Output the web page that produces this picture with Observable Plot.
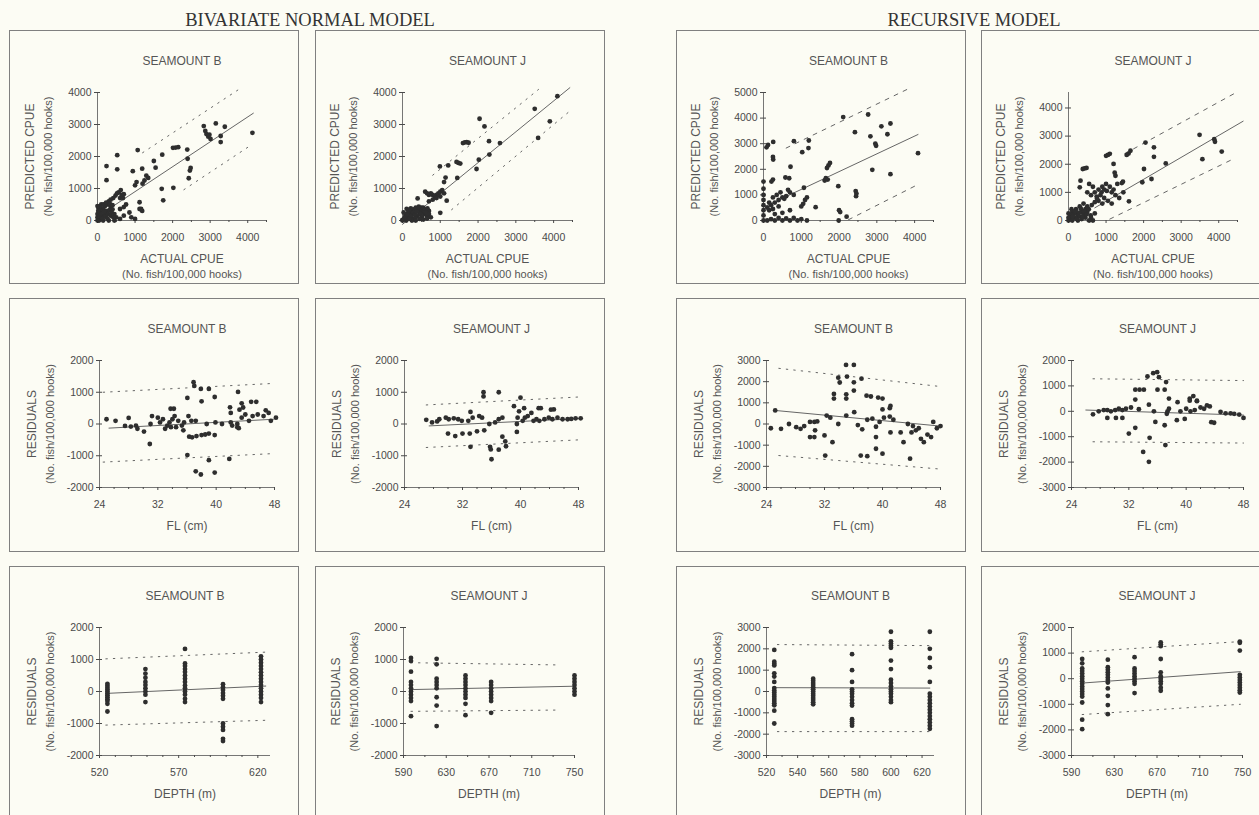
<!DOCTYPE html>
<html>
<head>
<meta charset="utf-8">
<script src="https://cdn.jsdelivr.net/npm/d3@7"></script>
<script src="https://cdn.jsdelivr.net/npm/@observablehq/plot@0.6"></script>
<style>
  html, body { margin: 0; padding: 0; background: #fcfcf4; }
  #chart { position: relative; width: 1259px; height: 815px; overflow: hidden; background: #fcfcf4; }
  .hdr { position: absolute; font-family: "Liberation Serif", "Times New Roman", serif; font-size: 18.5px; color: #333; white-space: nowrap; transform: translateX(-50%); line-height: 20px; }
  .panel { position: absolute; width: 288px; height: 252px; outline: 1px solid #808080; }
  .panel svg { position: absolute; left: 0; top: 0; }
</style>
</head>
<body>
<div id="chart"></div>
<script>
// ---------------- tick labels ----------------
const cpueTicks = [0, 1000, 2000, 3000, 4000];
const cpueMinor = [500, 1500, 2500, 3500, 4500];
const cpueTicks5 = [0, 1000, 2000, 3000, 4000, 5000];
const resTicks2 = [-2000, -1000, 0, 1000, 2000];
const resTicks3 = [-3000, -2000, -1000, 0, 1000, 2000, 3000];
const resTicks32 = [-3000, -2000, -1000, 0, 1000, 2000];
const flTicks = [24, 32, 40, 48];
const flMinor = [26, 28, 30, 34, 36, 38, 42, 44, 46];
const depthTicksB1 = [520, 570, 620];
const depthMinorB1 = [530, 540, 550, 560, 580, 590, 600, 610];
const depthTicksB2 = [520, 540, 560, 580, 600, 620];
const depthMinorB2 = [530, 550, 570, 590, 610];
const depthTicksJ = [590, 630, 670, 710, 750];
const depthMinorJ = [610, 650, 690, 730];

// ---------------- row 1: predicted vs actual CPUE ----------------
const bnB_cpue = [[4125,2740],[3390,2930],[3150,3035],[2830,2950],[2870,2800],[2900,2700],[2950,2620],[3010,2550],[2980,2680],[3280,2640],[3280,2450],
 [2390,2215],[2400,1930],[2480,1640],[2460,1560],[2430,1320],[2010,2270],[2080,2280],[2150,2290],[1724,2058],[1500,1860],[1547,1650],
 [1300,1400],[1350,1330],[1250,1250],[1200,1150],[1040,1200],[1000,1100],[1190,1620],[1070,2200],[940,1540],
 [525,2040],[525,1600],[240,1700],[240,1260],[1710,990],[2020,1020],[1750,630],
 [560,880],[620,950],[700,820],[480,780],[420,700],[350,650],[600,700],[680,700],[640,800],[520,850],
 [1120,570],[1120,360],[1160,360],[600,360],[700,420],[760,500],
 [300,600],[280,500],[200,450],[150,380],[350,420],[400,350],[250,300],[100,300],[50,250],[0,200],[0,100],[60,50],[120,150],[200,180],[280,200],[350,150],[450,200],[500,100],[600,50],[700,150],[850,250],[900,100],[1000,50],[1190,300],[40,0],[150,0],[300,0],[450,0],[30,380],[100,500],
 [0,0],[50,120],[80,220],[130,60],[180,280],[220,120],[260,60],[320,320],[380,250],[420,100],[60,420],[20,300],[160,500],[230,560],[330,520],[400,480],[0,450]];
const bnB_cpue_fit = [[0,124],[4150,3353]];
const bnB_cpue_up = [[1200,2117],[3800,4125]];
const bnB_cpue_lo = [[2300,963],[4100,2364]];

const bnJ_cpue = [[4100,3885],[3500,3490],[3900,3100],[3590,2580],[2580,2420],[2290,2480],[2040,3180],[2170,2940],[2300,2060],[2020,1900],[1960,1610],
 [1600,2420],[1650,2440],[1700,2450],[1750,2430],[1480,1800],[1530,1780],[1430,1830],[1210,1720],[990,1690],[1450,1330],[1140,1340],[1100,1200],
 [1000,900],[950,850],[900,800],[850,750],[800,800],[750,850],[700,800],[650,850],[600,900],[1050,950],[1100,850],[1000,750],[900,700],[800,650],[700,600],
 [1170,620],[1000,240],[400,690],[110,365],
 [150,100],[200,200],[250,300],[300,350],[350,400],[400,380],[450,350],[500,300],[550,250],[600,200],[650,150],[500,400],[450,250],[400,150],[350,100],[300,50],[250,0],[100,0],[50,50],[0,20],[200,50],[300,200],[550,400],[600,350],[700,300],[150,250],[80,150],
 [0,0],[60,100],[120,180],[180,60],[230,150],[280,260],[330,180],[380,280],[430,430],[480,200],[520,120],[580,300],[620,260],[660,380],[700,200],[750,100],[220,380],[170,330],[30,250],[350,0],[450,50],[550,30],[650,60]];
const bnJ_cpue_fit = [[0,-120],[4430,4150]];
const bnJ_cpue_up = [[800,1415],[3600,4095]];
const bnJ_cpue_lo = [[1300,337],[4450,3440]];

const recB_cpue = [[4090,2630],[3360,3790],[3120,3680],[3280,3370],[2770,4140],[2830,3290],[2960,3000],[2980,2920],[2420,3450],[2110,4040],[2880,1980],[3360,1810],
 [1720,2150],[1760,2250],[1680,2050],[1620,1560],[1650,1650],[1700,1600],[1980,1340],[2440,1150],[2460,1050],[2450,950],[2000,400],
 [1070,1280],[1200,3125],[1190,2830],[1025,2670],[805,3100],[257,3070],[80,2860],[120,2950],[257,2380],[250,2480],[715,2100],[580,1680],[680,1650],[210,1520],[250,1600],[0,1520],[0,1240],
 [650,1200],[700,1100],[600,950],[500,900],[400,800],[300,700],[200,600],[150,400],[800,1000],
 [1150,900],[1100,800],[1050,650],[1000,550],[1380,520],
 [0,1000],[0,800],[0,600],[0,400],[0,200],[0,0],[100,0],[200,50],[300,0],[400,100],[500,0],[600,80],[700,0],[800,100],[900,0],[1000,50],[1150,0],[300,250],[500,300],[700,400],
 [2030,330],[1990,0],[2200,150],
 [250,900],[350,1000],[450,1100],[550,850],[150,700],[100,500],[250,450],[400,550]];
const recB_cpue_fit = [[0,520],[4090,3360]];
const recB_cpue_up = [[600,2830],[3800,5120]];
const recB_cpue_lo = [[2250,30],[4000,1340]];

const recJ_cpue = [[3490,3045],[3880,2890],[3900,2800],[4080,2450],[3565,2180],[2590,2030],[2275,2600],[2275,2265],[2050,2770],[2010,1830],[2210,1475],[1965,1360],
 [1650,2480],[1600,2380],[1550,2330],[1450,1380],[1420,1330],[1460,1000],[1610,680],
 [1100,2370],[1050,2330],[1000,2300],[1200,2010],[1250,1590],[1230,1700],
 [1000,1300],[900,1200],[800,1100],[700,1000],[600,900],[1100,1200],[1200,1100],[1300,1300],[850,900],[750,850],[950,800],[1050,700],[1150,600],[650,1200],[550,1300],[500,1000],[800,700],[900,600],
 [380,1830],[430,1850],[480,1870],[320,1415],[300,1180],
 [100,300],[200,400],[300,500],[400,600],[250,200],[350,300],[450,400],[150,100],[50,50],[0,0],[100,0],[200,100],[300,150],[400,200],[500,300],[590,180],[600,100],[700,250],[500,500],[150,250],[50,200],[250,0],[350,50],[450,100],[550,0],[650,0],
 [0,100],[0,250],[80,400],[120,150],[180,330],[220,50],[280,280],[330,420],[380,120],[420,330],[480,220],[540,400],[620,550],[700,650],[760,780],[880,1000],[950,1100],[1020,1050],[1150,1000],[1250,900],[1350,800]];
const recJ_cpue_fit = [[700,450],[4650,3530]];
const recJ_cpue_up = [[1500,2377],[4450,4539]];
const recJ_cpue_lo = [[1100,50],[4450,2228]];

// ---------------- row 2: residuals vs fork length ----------------
const bnB_fl = [[36.9,1317],[37,1200],[37.9,1105],[39,1105],[36.05,820],[38,715],[39.8,850],[43,1010],[41.9,525],[43.5,650],[43.7,520],[44.8,700],[45.5,700],[33.75,480],[34.2,480],[46.8,430],
 [24.96,150],[26.2,100],[28,190],[28.3,-80],[27.5,-60],[29,-50],[29.2,-150],[30.1,-240],[30.9,-630],
 [31,0],[31.2,250],[32,200],[32.3,50],[32.7,150],[33,-150],[33.3,-50],[33.8,-100],[33.6,50],[34,150],[34.3,250],
 [34.5,-100],[34.8,100],[35.3,-50],[35.5,-200],[35.6,50],[36.2,250],[36.6,100],[37.2,100],
 [36.3,-400],[36.7,-420],[37.3,-380],[38,-350],[38.5,-330],[39,-300],[39.8,-350],[38.7,0],[39.9,50],[40.8,0],
 [36.05,-980],[37.2,-1490],[37.9,-1590],[39,-1140],[41.8,-1100],[39.8,-1530],
 [42,50],[42.2,-50],[42.9,0],[43.5,200],[44,300],[44.5,100],[45,250],[45.7,300],[46.5,250],[47.2,350],[47.5,100],[48.2,200],[42.9,-100],[43.1,-130],[42,350],[43.2,450]];
const bnB_fl_fit = [[25.3,-130],[47.9,150]];
const bnB_fl_up = [[24.5,1000],[48,1280]];
const bnB_fl_lo = [[24.5,-1200],[48,-930]];

const bnJ_fl = [[34.9,1000],[37,1000],[34.9,870],[40,830],[39.1,560],[40.5,500],[42.5,500],[42.8,500],
 [27,130],[27.8,50],[28.5,80],[28.8,150],[29.7,200],[30.1,150],[30.8,180],[31.4,150],[31.9,100],[32.8,100],[33.4,200],[34.3,250],[34.7,200],
 [30,-300],[31,-380],[32,-300],[33.1,380],[33,-300],[34,-230],[35,-200],
 [35.7,0],[36.5,50],[37,150],[37.5,200],[37.5,-400],[37.9,-550],[38,-700],
 [33.1,-720],[35.8,-720],[35.9,-800],[37,-810],[36,-1110],
 [39.5,-250],[39.5,0],[39.6,200],[39.8,400],[40.3,100],[40.6,200],[41,250],[41.5,350],[41.8,100],[42.2,150],[42.6,100],
 [43.3,150],[43.9,200],[44.4,150],[45.1,200],[45.8,150],[46.5,150],[47,160],[47.6,180],[48.3,180],[44.2,450],[44.6,460]];
const bnJ_fl_fit = [[27.4,-60],[48,170]];
const bnJ_fl_up = [[27,600],[48,850]];
const bnJ_fl_lo = [[27,-740],[48,-500]];

const recB_fl = [[34.97,2790],[36.05,2790],[33.9,2190],[34.1,1960],[35.1,2240],[36.05,1970],[37.1,2140],[36.05,1580],[33.3,1420],[33.3,1200],[35,1400],[35,1200],[37.8,1340],[38.4,1300],[39.4,1250],[40,1200],[41,750],
 [25.2,640],[24.6,-200],[26,-230],[27.1,0],[28.1,-150],[28.7,-230],[29.2,-100],[30,100],[30.6,100],[31,120],
 [30,-620],[30.6,-620],[30.7,-300],[32,-540],[33.1,-860],[32.1,-1490],
 [32.3,400],[32.8,300],[33.9,0],[35,400],[36.1,560],[36.6,-50],[37.2,-250],[37.9,200],[38.6,250],[39.1,-130],[39.1,-620],[39.6,100],[40.2,300],[41,350],[41.5,200],
 [37,-1490],[37.9,-1520],[39.1,-1170],[40,-1400],[40,690],[41.1,850],[41.1,-400],[42.5,-400],[42.9,-860],[43.8,-1640],
 [43.5,0],[44.2,-100],[44.6,-300],[45.3,-700],[45.7,-860],[46.2,-500],[46.7,-620],[47,100],[47.5,-200],[48,-100],[44,-400],[45,-200]];
const recB_fl_fit = [[25.2,640],[48,-100]];
const recB_fl_up = [[25.7,2630],[48,1770]];
const recB_fl_lo = [[25.7,-1490],[48,-2130]];

const recJ_fl = [[34.6,1370],[35.4,1500],[35.95,1540],[36.2,1345],[32.9,850],[33.5,850],[34.1,850],[36,850],[37,850],[37.2,1150],[32.9,460],[34.8,260],[40.5,500],[41,600],[41.5,400],
 [27,-120],[27.8,0],[28.5,50],[29,50],[29.5,0],[30.1,50],[30.6,100],[31.1,50],[31.6,100],[32.3,150],[33.4,80],
 [29,-260],[30.2,-260],[31.1,-260],[32,-875],[32.9,-650],[34,-1600],[34.8,-1990],[34.9,-1045],
 [35.5,0],[35.7,-420],[37,-550],[37.1,-1330],
 [37.3,-100],[37.4,0],[37.6,100],[37.6,500],[38.8,360],[38.7,-350],[39.8,-300],[39.2,0],[40,100],[40.5,420],[40.6,0],[41.2,50],[41.5,420],[42,150],[42.5,100],[42.9,230],[43.3,190],[43.9,-450],[43.5,-430],
 [44.8,-25],[45.5,-80],[46.2,-80],[46.7,-100],[47.4,-130],[48,-260]];
const recJ_fl_fit = [[26,50],[48,-150]];
const recJ_fl_up = [[27,1280],[48,1210]];
const recJ_fl_lo = [[27,-1200],[48,-1250]];

// ---------------- row 3: residuals vs depth ----------------
const bnB_depth = [525, 549, 574, 598, 622];
const bnB_depthRes = [
 [240,180,120,60,0,-60,-120,-180,-240,-300,-385,-625],
 [700,560,430,300,200,100,0,-100,-330],
 [1330,875,800,700,610,500,400,300,190,100,0,-100,-230,-330],
 [230,130,50,-50,-130,-230,-1000,-1100,-1200,-1480,-1550],
 [1100,1000,900,800,700,600,500,400,300,200,100,0,-100,-200,-330]];
const bnB_depth_fit = [[524,-60],[625,170]];
const bnB_depth_up = [[524,1020],[625,1230]];
const bnB_depth_lo = [[524,-1050],[625,-900]];

const bnJ_depth = [597, 621, 648, 672, 750];
const bnJ_depthRes = [
 [1050,950,620,300,200,100,0,-100,-200,-300,-770],
 [1020,850,400,300,200,100,-180,-440,-1080],
 [500,400,300,200,100,0,-100,-200,-385,-740],
 [300,200,100,0,-100,-200,-300,-665],
 [500,400,300,200,100,0,-100]];
const bnJ_depth_fit = [[597,60],[750,165]];
const bnJ_depth_up = [[597,900],[735,830]];
const bnJ_depth_lo = [[597,-620],[735,-580]];

const recB_depth = [525, 550, 575, 600, 625];
const recB_depthRes = [
 [1950,1400,1300,1220,850,700,450,160,50,-50,-150,-250,-350,-450,-550,-650,-900,-1500],
 [600,500,400,300,200,100,0,-100,-200,-300,-400,-500,-600],
 [1750,1000,450,100,0,-100,-250,-400,-550,-660,-1300,-1400,-1500,-1600],
 [2800,2350,2250,2150,2050,1450,1050,550,400,250,100,0,-100,-250,-400,-500],
 [2800,2000,1570,1140,450,-100,-250,-400,-550,-700,-850,-1000,-1150,-1300,-1450,-1600,-1750]];
const recB_depth_fit = [[525,180],[625,160]];
const recB_depth_up = [[527,2200],[625,2150]];
const recB_depth_lo = [[527,-1880],[625,-1880]];

const recJ_depth = [600, 624, 649, 673.5, 747.5];
const recJ_depthRes = [
 [770,600,400,300,200,100,0,-100,-200,-300,-400,-500,-600,-700,-930,-1600,-1970],
 [745,450,350,250,150,50,-50,-150,-380,-670,-1030,-1385],
 [840,400,300,200,100,0,-100,-200,-560],
 [1420,1350,1270,770,250,100,0,-100,-200,-350,-470],
 [1450,1400,1100,150,50,-50,-150,-250,-350,-450,-540]];
const recJ_depth_fit = [[600,-170],[748,275]];
const recJ_depth_up = [[600,1050],[748,1450]];
const recJ_depth_lo = [[600,-1400],[748,-1000]];

// ---------------- text ----------------
const headers = ["BIVARIATE NORMAL MODEL", "RECURSIVE MODEL"];
const titleB = "SEAMOUNT B", titleJ = "SEAMOUNT J";
const unitLabel = "(No. fish/100,000 hooks)";

// ---------------- layout (positions only) ----------------
const colLeft = [10, 316, 677, 982];
const rowTop = [31, 299, 567];
const headerPos = [[310, 10], [974, 10]];

const cols = (depth, res) => depth.flatMap((d, i) => res[i].map(r => [d, r]));

const panels = [
  // row 1
  {c:0,r:0,mL:87,pw:169,title:titleB,pts:bnB_cpue,fit:bnB_cpue_fit,up:bnB_cpue_up,lo:bnB_cpue_lo,xd:[0,4500],yd:[0,4000],xt:cpueTicks,xm:cpueMinor,yt:cpueTicks,xl:["ACTUAL CPUE",unitLabel],yl:"PREDICTED CPUE"},
  {c:1,r:0,mL:86,pw:170,title:titleJ,pts:bnJ_cpue,fit:bnJ_cpue_fit,up:bnJ_cpue_up,lo:bnJ_cpue_lo,xd:[0,4500],yd:[0,4000],xt:cpueTicks,xm:cpueMinor,yt:cpueTicks,xl:["ACTUAL CPUE",unitLabel],yl:"PREDICTED CPUE"},
  {c:2,r:0,mL:86,pw:170,title:titleB,pts:recB_cpue,fit:recB_cpue_fit,up:recB_cpue_up,lo:recB_cpue_lo,xd:[0,4500],yd:[0,5000],xt:cpueTicks,xm:cpueMinor,yt:cpueTicks5,xl:["ACTUAL CPUE",unitLabel],yl:"PREDICTED CPUE",dash:"4,6"},
  {c:3,r:0,mL:86,pw:169,title:titleJ,pts:recJ_cpue,fit:recJ_cpue_fit,up:recJ_cpue_up,lo:recJ_cpue_lo,xd:[0,4500],yd:[0,4550],xt:cpueTicks,xm:cpueMinor,yt:cpueTicks,xl:["ACTUAL CPUE",unitLabel],yl:"PREDICTED CPUE",dash:"4,6"},
  // row 2
  {c:0,r:1,mL:89,pw:175,title:titleB,pts:bnB_fl,fit:bnB_fl_fit,up:bnB_fl_up,lo:bnB_fl_lo,xd:[24,48],yd:[-2000,2000],xt:flTicks,xm:flMinor,yt:resTicks2,xl:["FL (cm)"],yl:"RESIDUALS"},
  {c:1,r:1,mL:88,pw:174,title:titleJ,pts:bnJ_fl,fit:bnJ_fl_fit,up:bnJ_fl_up,lo:bnJ_fl_lo,xd:[24,48],yd:[-2000,2000],xt:flTicks,xm:flMinor,yt:resTicks2,xl:["FL (cm)"],yl:"RESIDUALS"},
  {c:2,r:1,mL:89,pw:174,title:titleB,pts:recB_fl,fit:recB_fl_fit,up:recB_fl_up,lo:recB_fl_lo,xd:[24,48],yd:[-3000,3000],xt:flTicks,xm:flMinor,yt:resTicks3,xl:["FL (cm)"],yl:"RESIDUALS"},
  {c:3,r:1,mL:89,pw:172,title:titleJ,pts:recJ_fl,fit:recJ_fl_fit,up:recJ_fl_up,lo:recJ_fl_lo,xd:[24,48],yd:[-3000,2000],xt:flTicks,xm:flMinor,yt:resTicks32,xl:["FL (cm)"],yl:"RESIDUALS"},
  // row 3
  {c:0,r:2,mL:89,pw:171,title:titleB,pts:cols(bnB_depth,bnB_depthRes),fit:bnB_depth_fit,up:bnB_depth_up,lo:bnB_depth_lo,xd:[520,628],yd:[-2000,2000],xt:depthTicksB1,xm:depthMinorB1,yt:resTicks2,xl:["DEPTH (m)"],yl:"RESIDUALS"},
  {c:1,r:2,mL:87,pw:171,title:titleJ,pts:cols(bnJ_depth,bnJ_depthRes),fit:bnJ_depth_fit,up:bnJ_depth_up,lo:bnJ_depth_lo,xd:[590,750],yd:[-2000,2000],xt:depthTicksJ,xm:depthMinorJ,yt:resTicks2,xl:["DEPTH (m)"],yl:"RESIDUALS"},
  {c:2,r:2,mL:89,pw:168,title:titleB,pts:cols(recB_depth,recB_depthRes),fit:recB_depth_fit,up:recB_depth_up,lo:recB_depth_lo,xd:[520,628],yd:[-3000,3000],xt:depthTicksB2,xm:depthMinorB2,yt:resTicks3,xl:["DEPTH (m)"],yl:"RESIDUALS"},
  {c:3,r:2,mL:89,pw:171,title:titleJ,pts:cols(recJ_depth,recJ_depthRes),fit:recJ_depth_fit,up:recJ_depth_up,lo:recJ_depth_lo,xd:[590,750],yd:[-3000,2000],xt:depthTicksJ,xm:depthMinorJ,yt:resTicks32,xl:["DEPTH (m)"],yl:"RESIDUALS"}
];
const rowMT = [61, 61, 60];
const rowPH = [128, 127, 128];

const W = 288, H = 252;
const fmt = d => String(d);
const px = d => d[0], py = d => d[1];
const ink = "#555";

function makePanel(p) {
  const mT = rowMT[p.r], ph = rowPH[p.r];
  const marks = [
    Plot.ruleX([p.xd[0]], {stroke: "#666", strokeWidth: 0.9}),
    Plot.ruleY([p.yd[0]], {stroke: "#666", strokeWidth: 0.9}),
    Plot.axisY({ticks: p.yt, tickSize: 3, tickPadding: 3, tickFormat: fmt, label: null, fontSize: 10.5}),
    Plot.axisY({ticks: p.yt, tickSize: -3, tickFormat: () => "", label: null}),
    Plot.axisX({ticks: p.xt, tickSize: 3, tickPadding: 10, tickFormat: fmt, label: null, fontSize: 10.5}),
    Plot.axisX({ticks: p.xm, tickSize: 2, tickFormat: () => "", label: null}),
    Plot.line(p.up, {x: px, y: py, stroke: "#666", strokeWidth: 1, strokeDasharray: p.dash || "1.5,6"}),
    Plot.line(p.lo, {x: px, y: py, stroke: "#666", strokeWidth: 1, strokeDasharray: p.dash || "1.5,6"}),
    Plot.line(p.fit, {x: px, y: py, stroke: "#666", strokeWidth: 1}),
    Plot.dot(p.pts, {x: px, y: py, r: 2.4, fill: "#2e2e2e", stroke: "none"}),
    Plot.text([p.title], {text: d => d, frameAnchor: "top", lineAnchor: "middle", textAnchor: "middle", dy: -31, fontSize: 12, fill: ink}),
    Plot.text([p.yl], {text: d => d, frameAnchor: "left", lineAnchor: "middle", textAnchor: "middle", dx: -67, rotate: -90, fontSize: 12, fill: ink}),
    Plot.text([unitLabel], {text: d => d, frameAnchor: "left", lineAnchor: "middle", textAnchor: "middle", dx: -49, rotate: -90, fontSize: 11, fill: ink})
  ];
  p.xl.forEach((t, i) => {
    marks.push(Plot.text([t], {text: d => d, frameAnchor: "bottom", lineAnchor: "middle", textAnchor: "middle", dy: 39 + i * 15, fontSize: i === 0 ? 12 : 11, fill: ink}));
  });
  return Plot.plot({
    width: W, height: H,
    marginLeft: p.mL, marginRight: W - p.mL - p.pw,
    marginTop: mT, marginBottom: H - mT - ph,
    x: {domain: p.xd},
    y: {domain: p.yd},
    style: {background: "transparent", color: "#4a4a4a", fontFamily: "'Liberation Sans', Arial, sans-serif", fontSize: "10.5px", overflow: "visible"},
    marks
  });
}

const chart = document.getElementById("chart");
headers.forEach((h, i) => {
  const d = document.createElement("div");
  d.className = "hdr";
  d.textContent = h;
  d.style.left = headerPos[i][0] + "px";
  d.style.top = headerPos[i][1] + "px";
  chart.appendChild(d);
});
panels.forEach(p => {
  const box = document.createElement("div");
  box.className = "panel";
  box.style.left = colLeft[p.c] + "px";
  box.style.top = rowTop[p.r] + "px";
  box.appendChild(makePanel(p));
  chart.appendChild(box);
});
</script>
</body>
</html>
